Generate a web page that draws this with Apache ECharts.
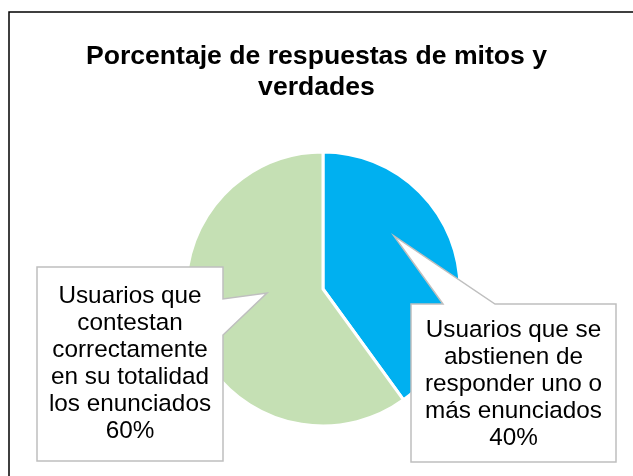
<!DOCTYPE html>
<html>
<head>
<meta charset="utf-8">
<script src="https://cdn.jsdelivr.net/npm/echarts@6/dist/echarts.min.js"></script>
<style>
html,body{margin:0;padding:0;background:#fff;}
#chart{width:633px;height:476px;}
</style>
</head>
<body>
<div id="chart"></div>
<script>
// Data
var titleText = 'Porcentaje de respuestas de mitos y\nverdades';
var categories = [
  'Usuarios que se\nabstienen de\nresponder uno o\nmás enunciados',
  'Usuarios que\ncontestan\ncorrectamente\nen su totalidad\nlos enunciados'
];
var values = [40, 60];
var colors = ['#00B0F0', '#C5E0B4'];

var FONT = 'Arial, "Liberation Sans", sans-serif';

var chart = echarts.init(document.getElementById('chart'));

function labelText(i) {
  return categories[i] + '\n' + values[i] + '%';
}

var calloutStyle = { fill: '#ffffff', stroke: '#BFBFBF', lineWidth: 1.5 };

chart.setOption({
  backgroundColor: '#ffffff',
  animation: false,
  title: {
    text: titleText,
    left: 'center',
    top: 36,
    textStyle: { fontFamily: FONT, fontSize: 26.6, fontWeight: 'bold', color: '#000', lineHeight: 31 }
  },
  series: [{
    type: 'pie',
    center: [323, 289],
    radius: 137,
    startAngle: 90,
    clockwise: true,
    label: { show: false },
    labelLine: { show: false },
    itemStyle: { borderColor: '#ffffff', borderWidth: 3 },
    emphasis: { disabled: true },
    data: values.map(function (v, i) {
      return { value: v, name: categories[i], itemStyle: { color: colors[i] } };
    })
  }],
  graphic: [
    {
      type: 'rect', z: 1,
      shape: { x: 9, y: 12, width: 700, height: 500 },
      style: { fill: null, stroke: '#000', lineWidth: 1.5 },
      silent: true
    },
    {
      type: 'polygon', z: 10,
      shape: { points: [[37, 267], [223, 267], [223, 299], [267, 293], [223, 335], [223, 461], [37, 461]] },
      style: calloutStyle
    },
    {
      type: 'text', z: 11,
      style: {
        text: labelText(1), x: 130, y: 364,
        textAlign: 'center', textVerticalAlign: 'middle',
        fontFamily: FONT, fontSize: 24.3, lineHeight: 27, fill: '#000'
      }
    },
    {
      type: 'polygon', z: 10,
      shape: { points: [[411, 304], [443, 304], [394, 236], [495, 304], [616, 304], [616, 462], [411, 462]] },
      style: calloutStyle
    },
    {
      type: 'text', z: 11,
      style: {
        text: labelText(0), x: 513.5, y: 384,
        textAlign: 'center', textVerticalAlign: 'middle',
        fontFamily: FONT, fontSize: 24.3, lineHeight: 27, fill: '#000'
      }
    }
  ]
});
</script>
</body>
</html>
